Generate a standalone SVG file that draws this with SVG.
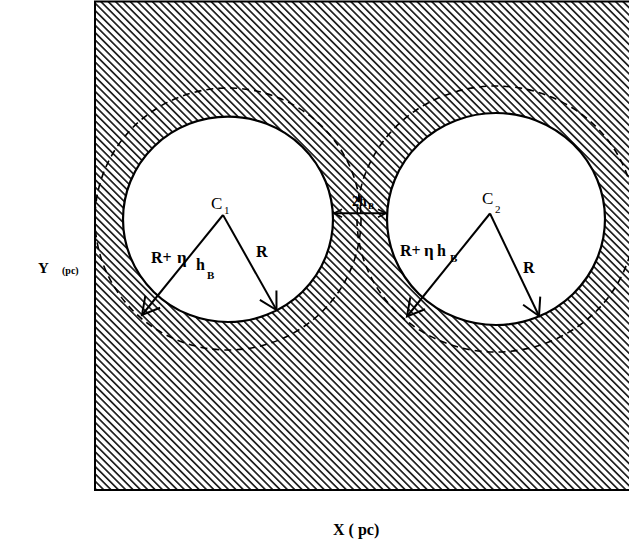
<svg xmlns="http://www.w3.org/2000/svg" width="629" height="545" viewBox="0 0 629 545">
<style>
.lbl{font-family:"Liberation Serif","Times New Roman",serif;font-weight:bold;fill:#000}
.cn{font-family:"Liberation Serif","Times New Roman",serif;fill:#000}
.solid{fill:#fff;stroke:#000;stroke-width:2.2}
.dash{fill:none;stroke:#000;stroke-width:1.6;stroke-dasharray:7 5}
.arr{stroke:#000;stroke-width:2;fill:none}
</style>
<defs>
<pattern id="hatch" width="5.2" height="5.2" patternUnits="userSpaceOnUse" patternTransform="rotate(-45)">
<line x1="2.6" y1="-1" x2="2.6" y2="6.2" stroke="#000" stroke-width="1.5"/>
</pattern>
<marker id="open" viewBox="-20 -11 22 22" markerWidth="22" markerHeight="22" refX="0" refY="0" orient="auto-start-reverse" markerUnits="userSpaceOnUse">
<path d="M-17,-9.5 L0,0 L-17,9.5" fill="none" stroke="#000" stroke-width="2"/>
</marker>
<marker id="small" viewBox="-11 -6 13 12" markerWidth="13" markerHeight="12" refX="0" refY="0" orient="auto-start-reverse" markerUnits="userSpaceOnUse">
<path d="M-8,-4 L0,0 L-8,4" fill="none" stroke="#000" stroke-width="1.6"/>
</marker>
</defs>
<rect width="629" height="545" fill="#fff"/>
<g id="region">
<rect x="95" y="1.5" width="540" height="488.5" fill="url(#hatch)" stroke="#000" stroke-width="2"/>
</g>
<g id="halo1"><ellipse class="dash" cx="228" cy="219" rx="133" ry="131"/></g>
<g id="halo2"><ellipse class="dash" cx="496" cy="219" rx="139" ry="133"/></g>
<g id="circle1">
<ellipse class="solid" cx="228" cy="219.3" rx="105" ry="102.7"/>
<text class="cn" x="211" y="209" font-size="17">C</text>
<text class="cn" x="224" y="214" font-size="11">1</text>
</g>
<g id="circle2">
<ellipse class="solid" cx="496" cy="219" rx="109" ry="106"/>
<text class="cn" x="482" y="204" font-size="17">C</text>
<text class="cn" x="495" y="213" font-size="11">2</text>
</g>
<g id="connectors">
<line class="arr" x1="223" y1="215" x2="142" y2="315" marker-end="url(#open)"/>
<line class="arr" x1="223" y1="215" x2="276.5" y2="310" marker-end="url(#open)"/>
<line class="arr" x1="490" y1="213.5" x2="407" y2="316.5" marker-end="url(#open)"/>
<line class="arr" x1="490" y1="213.5" x2="539" y2="316" marker-end="url(#open)"/>
<line class="arr" x1="334" y1="213.3" x2="386" y2="213.3" stroke-width="1.6" marker-start="url(#small)" marker-end="url(#small)"/>
</g>
<g id="labels">
<text class="lbl" x="151" y="263" font-size="16">R+</text>
<text class="lbl" x="177" y="263" font-size="17">η</text>
<text class="lbl" x="196" y="270" font-size="16">h</text>
<text class="lbl" x="207" y="279" font-size="11">B</text>
<text class="lbl" x="256" y="257" font-size="16">R</text>
<text class="lbl" x="400" y="256" font-size="16">R+</text>
<text class="lbl" x="424" y="256" font-size="17">η</text>
<text class="lbl" x="437" y="256" font-size="16">h</text>
<text class="lbl" x="450" y="262" font-size="11">B</text>
<text class="lbl" x="523" y="273" font-size="16">R</text>
<text class="lbl" x="352" y="206" font-size="14">2h</text>
<text class="lbl" x="368" y="209" font-size="9">B</text>
<text class="lbl" x="38" y="273" font-size="15">Y</text>
<text class="lbl" x="62" y="274" font-size="10">(pc)</text>
<text class="lbl" x="333" y="535" font-size="16">X ( pc)</text>
</g>
</svg>
